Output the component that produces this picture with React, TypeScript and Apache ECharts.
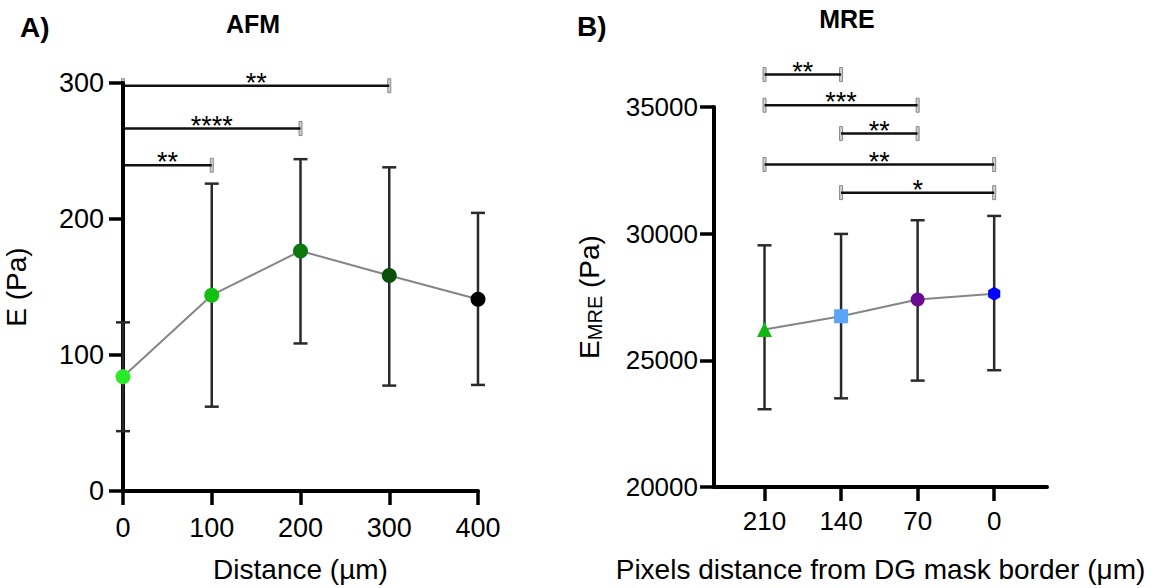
import React, { useEffect, useRef } from "react";
import * as echarts from "echarts";

// ---------- Panel A (AFM) ----------
const afmDistance = [0, 100, 200, 300, 400];
const afmMean = [84, 144, 176.5, 158.5, 141];
const afmLow = [44, 62, 108.5, 77.5, 78];
const afmHigh = [124, 226, 244, 238, 204.5];
const afmColors = ["#2aea2a", "#12c012", "#0d780d", "#0a500a", "#000000"];

const afmSigFrom = [0, 0, 0];
const afmSigTo = [300, 200, 100];
const afmSigLevel = [298, 266.5, 239.5];
const afmSigLabel = ["**", "****", "**"];

// ---------- Panel B (MRE) ----------
const mreCategories = ["210", "140", "70", "0"];
const mreMean = [26220, 26740, 27400, 27630];
const mreLow = [23070, 23500, 24200, 24610];
const mreHigh = [29540, 29990, 30530, 30700];
const mreColors = ["#12b812", "#5aa5f5", "#6a0a90", "#0000ff"];
const mreSymbols = [
  "triangle",
  "rect",
  "circle",
  "path://M0,-10L8.66,-5L8.66,5L0,10L-8.66,5L-8.66,-5Z",
];

const mreSigFrom = [0, 0, 1, 0, 1];
const mreSigTo = [1, 2, 2, 3, 3];
const mreSigLevel = [36280, 35070, 33950, 32730, 31620];
const mreSigLabel = ["**", "***", "**", "**", "*"];

const FONT = '"Liberation Sans", Arial, Helvetica, sans-serif';

const errorRender = (params: any, api: any) => {
  const x = api.value(0);
  const lo = api.coord([x, api.value(1)]);
  const hi = api.coord([x, api.value(2)]);
  const w = 7;
  const style = { stroke: "#2a2a2a", lineWidth: 2.5 };
  return {
    type: "group",
    children: [
      { type: "line", shape: { x1: lo[0], y1: lo[1], x2: hi[0], y2: hi[1] }, style },
      { type: "line", shape: { x1: lo[0] - w, y1: lo[1], x2: lo[0] + w, y2: lo[1] }, style },
      { type: "line", shape: { x1: hi[0] - w, y1: hi[1], x2: hi[0] + w, y2: hi[1] }, style },
    ],
  };
};

const makeBracketRender = (labels: string[]) => (params: any, api: any) => {
  const a = api.coord([api.value(0), api.value(2)]);
  const b = api.coord([api.value(1), api.value(2)]);
  const tick = (x: number, y: number) => ({
    type: "rect",
    shape: { x: x - 1.5, y: y - 7, width: 3, height: 14 },
    style: { fill: "#d0d0d0", stroke: "#888888", lineWidth: 1 },
  });
  return {
    type: "group",
    children: [
      tick(a[0], a[1]),
      tick(b[0], b[1]),
      {
        type: "line",
        shape: { x1: a[0], y1: a[1], x2: b[0], y2: b[1] },
        style: { stroke: "#111111", lineWidth: 2.5 },
      },
      {
        type: "text",
        x: (a[0] + b[0]) / 2,
        y: a[1] - 3,
        style: {
          text: labels[params.dataIndex],
          fill: "#000000",
          fontSize: 27,
          fontFamily: FONT,
          align: "center",
          verticalAlign: "middle",
        },
      },
    ],
  };
};

const axisLineStyle = { show: true, onZero: false, lineStyle: { color: "#000", width: 4 } };
const axisTickStyle = { show: true, length: 14, lineStyle: { color: "#000", width: 3.5 } };
const plain = (v: number) => String(v);

export default function App() {
  const ref = useRef<HTMLDivElement>(null);

  useEffect(() => {
    if (!ref.current) return;
    const chart = echarts.init(ref.current, undefined, { renderer: "svg" });

    const option: any = {
      animation: false,
      backgroundColor: "#ffffff",
      textStyle: { fontFamily: FONT },
      grid: [
        { left: 123, top: 83, width: 355, height: 408, containLabel: false },
        { left: 714, top: 107, width: 333, height: 380, containLabel: false },
      ],
      xAxis: [
        {
          type: "value",
          gridIndex: 0,
          min: 0,
          max: 400,
          interval: 100,
          axisLine: axisLineStyle,
          axisTick: axisTickStyle,
          splitLine: { show: false },
          axisLabel: { fontSize: 27, color: "#000", margin: 23, fontFamily: FONT, formatter: plain },
          name: "Distance (µm)",
          nameLocation: "middle",
          nameGap: 64,
          nameTextStyle: { fontSize: 28, color: "#000", fontFamily: FONT },
          z: 2,
        },
        {
          type: "value",
          gridIndex: 1,
          min: -0.66,
          max: 3.69,
          axisLine: axisLineStyle,
          axisTick: { ...axisTickStyle, customValues: [0, 1, 2, 3] },
          splitLine: { show: false },
          axisLabel: {
            fontSize: 26,
            color: "#000",
            margin: 21,
            fontFamily: FONT,
            customValues: [0, 1, 2, 3],
            formatter: (v: number) => mreCategories[Math.round(v)] ?? "",
          },
          name: "Pixels distance from DG mask border (μm)",
          nameLocation: "middle",
          nameGap: 68,
          nameTextStyle: { fontSize: 28, color: "#000", fontFamily: FONT },
          z: 2,
        },
      ],
      yAxis: [
        {
          type: "value",
          gridIndex: 0,
          min: 0,
          max: 300,
          interval: 100,
          axisLine: axisLineStyle,
          axisTick: axisTickStyle,
          splitLine: { show: false },
          axisLabel: { fontSize: 27, color: "#000", margin: 19, fontFamily: FONT, formatter: plain },
          name: "E (Pa)",
          nameLocation: "middle",
          nameGap: 93,
          nameTextStyle: { fontSize: 28, color: "#000", fontFamily: FONT },
          z: 2,
        },
        {
          type: "value",
          gridIndex: 1,
          min: 20000,
          max: 35000,
          interval: 5000,
          axisLine: axisLineStyle,
          axisTick: axisTickStyle,
          splitLine: { show: false },
          axisLabel: { fontSize: 26, color: "#000", margin: 16, fontFamily: FONT, formatter: plain },
          name: "{e|E}{s|MRE}{e| (Pa)}",
          nameLocation: "middle",
          nameGap: 109,
          nameTextStyle: {
            color: "#000",
            fontFamily: FONT,
            rich: {
              e: { fontSize: 28, lineHeight: 32, color: "#000", fontFamily: FONT },
              s: {
                fontSize: 20,
                lineHeight: 20,
                verticalAlign: "bottom",
                color: "#000",
                fontFamily: FONT,
              },
            },
          },
          z: 2,
        },
      ],
      graphic: [
        {
          type: "text",
          x: 20,
          y: 27,
          style: {
            text: "A)",
            fontSize: 28,
            fontWeight: "bold",
            fill: "#000",
            fontFamily: FONT,
            align: "left",
            verticalAlign: "middle",
          },
        },
        {
          type: "text",
          x: 253,
          y: 24,
          style: {
            text: "AFM",
            fontSize: 25,
            fontWeight: "bold",
            fill: "#000",
            fontFamily: FONT,
            align: "center",
            verticalAlign: "middle",
          },
        },
        {
          type: "text",
          x: 577,
          y: 26,
          style: {
            text: "B)",
            fontSize: 28,
            fontWeight: "bold",
            fill: "#000",
            fontFamily: FONT,
            align: "left",
            verticalAlign: "middle",
          },
        },
        {
          type: "text",
          x: 847,
          y: 19,
          style: {
            text: "MRE",
            fontSize: 25,
            fontWeight: "bold",
            fill: "#000",
            fontFamily: FONT,
            align: "center",
            verticalAlign: "middle",
          },
        },
      ],
      series: [
        {
          type: "custom",
          xAxisIndex: 0,
          yAxisIndex: 0,
          z: 1,
          clip: false,
          renderItem: makeBracketRender(afmSigLabel),
          encode: { x: [0, 1], y: 2 },
          data: afmSigFrom.map((f, i) => [f, afmSigTo[i], afmSigLevel[i]]),
        },
        {
          type: "custom",
          xAxisIndex: 0,
          yAxisIndex: 0,
          z: 3,
          clip: false,
          renderItem: errorRender,
          encode: { x: 0, y: [1, 2] },
          data: afmDistance.map((x, i) => [x, afmLow[i], afmHigh[i]]),
        },
        {
          type: "line",
          xAxisIndex: 0,
          yAxisIndex: 0,
          z: 4,
          lineStyle: { color: "#858585", width: 2 },
          symbol: "circle",
          symbolSize: 15,
          data: afmDistance.map((x, i) => ({
            value: [x, afmMean[i]],
            itemStyle: { color: afmColors[i], borderWidth: 0 },
          })),
        },
        {
          type: "custom",
          xAxisIndex: 1,
          yAxisIndex: 1,
          z: 1,
          clip: false,
          renderItem: makeBracketRender(mreSigLabel),
          encode: { x: [0, 1], y: 2 },
          data: mreSigFrom.map((f, i) => [f, mreSigTo[i], mreSigLevel[i]]),
        },
        {
          type: "custom",
          xAxisIndex: 1,
          yAxisIndex: 1,
          z: 3,
          clip: false,
          renderItem: errorRender,
          encode: { x: 0, y: [1, 2] },
          data: mreCategories.map((_, i) => [i, mreLow[i], mreHigh[i]]),
        },
        {
          type: "line",
          xAxisIndex: 1,
          yAxisIndex: 1,
          z: 4,
          lineStyle: { color: "#858585", width: 2 },
          symbolKeepAspect: true,
          data: mreCategories.map((_, i) => ({
            value: [i, mreMean[i]],
            symbol: mreSymbols[i],
            symbolSize: i === 0 ? 15 : 14,
            itemStyle: { color: mreColors[i], borderWidth: 0 },
          })),
        },
      ],
    };

    chart.setOption(option);
    return () => chart.dispose();
  }, []);

  return (
    <div
      ref={ref}
      style={{ position: "absolute", left: 0, top: 0, width: 1157, height: 588, background: "#fff" }}
    />
  );
}
